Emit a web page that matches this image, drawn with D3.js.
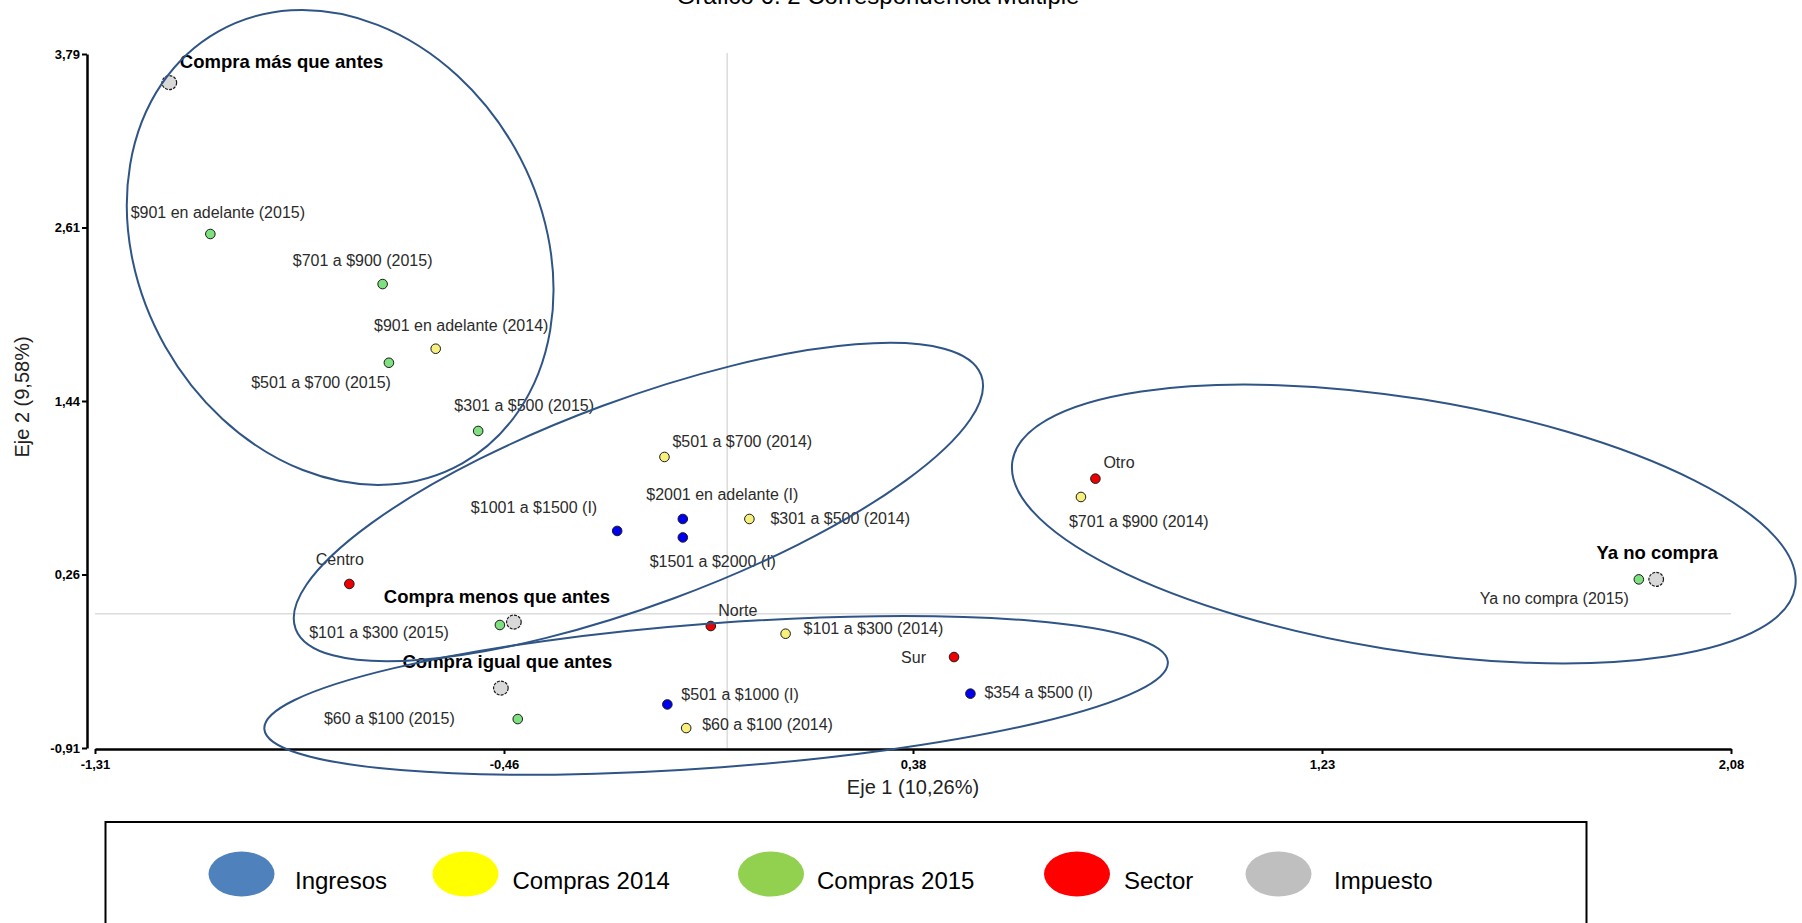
<!DOCTYPE html>
<html><head><meta charset="utf-8">
<script src="https://cdn.jsdelivr.net/npm/d3@7"></script>
<style>
html,body{margin:0;padding:0;background:#fff;overflow:hidden}
svg{display:block;font-family:"Liberation Sans",Arial,Helvetica,sans-serif}
</style></head><body>
<svg id="chart" width="1802" height="923"></svg>
<script>
// ---------- DATA ----------
const chartTitle = "Gráfico 6. 2 Correspondencia Múltiple";
const xAxisTitle = "Eje 1 (10,26%)";
const yAxisTitle = "Eje 2 (9,58%)";
const xDomain = [-1.31, 2.08];
const yDomain = [-0.91, 3.79];
const xTickLabels = ["-1,31", "-0,46", "0,38", "1,23", "2,08"];
const yTickLabels = ["-0,91", "0,26", "1,44", "2,61", "3,79"];

const seriesNames = ["Ingresos", "Compras 2014", "Compras 2015", "Sector", "Impuesto"];

const ingresosLabels = ["$2001 en adelante (I)", "$1501 a $2000 (I)", "$1001 a $1500 (I)", "$501 a $1000 (I)", "$354 a $500 (I)"];
const ingresosX = [-0.092, -0.092, -0.228, -0.124, 0.504];
const ingresosY = [0.641, 0.516, 0.560, -0.615, -0.542];

const compras2014Labels = ["$901 en adelante (2014)", "$701 a $900 (2014)", "$501 a $700 (2014)", "$301 a $500 (2014)", "$101 a $300 (2014)", "$60 a $100 (2014)"];
const compras2014X = [-0.604, 0.733, -0.130, 0.046, 0.121, -0.085];
const compras2014Y = [1.794, 0.790, 1.061, 0.641, -0.136, -0.775];

const compras2015Labels = ["$901 en adelante (2015)", "$701 a $900 (2015)", "$501 a $700 (2015)", "$301 a $500 (2015)", "$101 a $300 (2015)", "$60 a $100 (2015)", "Ya no compra (2015)"];
const compras2015X = [-1.071, -0.714, -0.701, -0.516, -0.471, -0.434, 1.889];
const compras2015Y = [2.571, 2.232, 1.699, 1.237, -0.077, -0.714, 0.232];

const sectorLabels = ["Centro", "Norte", "Sur", "Otro"];
const sectorX = [-0.783, -0.034, 0.470, 0.763];
const sectorY = [0.201, -0.084, -0.294, 0.914];

const impuestoLabels = ["Compra más que antes", "Compra menos que antes", "Compra igual que antes", "Ya no compra"];
const impuestoX = [-1.156, -0.442, -0.469, 1.925];
const impuestoY = [3.596, -0.057, -0.504, 0.232];

// group ellipse centres (data units)
const ellipseCenterX = [-0.802, -0.184, -0.023, 1.402];
const ellipseCenterY = [2.480, 0.756, -0.554, 0.607];

// ---------- LAYOUT / STYLE ----------
const ellipseShape = [ // rx, ry (px), rotation (deg)
  [248, 201, 60.5], [365.5, 102.6, -20.3], [453, 72.1, -4.26], [396.4, 126, 9.15]
];
const pointFill = {"Ingresos":"#0000f0","Compras 2014":"#f8f07c","Compras 2015":"#7ee07e","Sector":"#ee0000","Impuesto":"#d9d9d9"};
const legendFill = ["#4f81bd", "#ffff00", "#92d050", "#ff0000", "#bfbfbf"];
const legendEllipseX = [241.5, 465.5, 771, 1077, 1278.5];
const legendTextX = [295, 512.5, 817, 1124, 1334];
// label placement: [anchor, dx, dy]
const labelPlace = {
  "$2001 en adelante (I)":["middle",39.5,-19], "$1501 a $2000 (I)":["middle",30,29.5],
  "$1001 a $1500 (I)":["end",-20,-18], "$501 a $1000 (I)":["start",14,-4.5], "$354 a $500 (I)":["start",14,4.5],
  "$901 en adelante (2014)":["middle",25.5,-17.7], "$701 a $900 (2014)":["start",-12,30],
  "$501 a $700 (2014)":["start",8,-10], "$301 a $500 (2014)":["start",21,5],
  "$101 a $300 (2014)":["start",18,0.5], "$60 a $100 (2014)":["start",16,2],
  "$901 en adelante (2015)":["middle",7.5,-16], "$701 a $900 (2015)":["middle",-20,-18],
  "$501 a $700 (2015)":["end",2,25], "$301 a $500 (2015)":["middle",46,-20],
  "$101 a $300 (2015)":["end",-51,13], "$60 a $100 (2015)":["end",-63,5], "Ya no compra (2015)":["end",-10,25],
  "Centro":["middle",-9.5,-19], "Norte":["middle",27,-10], "Sur":["end",-28,5.5], "Otro":["start",8,-10.5],
  "Compra más que antes":["start",10.5,-15], "Compra menos que antes":["middle",-17,-19],
  "Compra igual que antes":["middle",6.5,-20], "Ya no compra":["middle",1,-20]
};

// ---------- BUILD ----------
const svg = d3.select("#chart");
const x = d3.scaleLinear().domain(xDomain).range([95, 1731]);
const y = d3.scaleLinear().domain(yDomain).range([748, 54]);
const xTickVals = d3.range(5).map(i => xDomain[0] + i * (xDomain[1] - xDomain[0]) / 4);
const yTickVals = d3.range(5).map(i => yDomain[0] + i * (yDomain[1] - yDomain[0]) / 4);

function mk(name, labels, xs, ys) {
  return labels.map((l, i) => ({series: name, label: l, x: xs[i], y: ys[i]}));
}
const points = [].concat(
  mk("Ingresos", ingresosLabels, ingresosX, ingresosY),
  mk("Compras 2014", compras2014Labels, compras2014X, compras2014Y),
  mk("Compras 2015", compras2015Labels, compras2015X, compras2015Y),
  mk("Sector", sectorLabels, sectorX, sectorY),
  mk("Impuesto", impuestoLabels, impuestoX, impuestoY)
);

// title (cut at the top edge, as in the original)
svg.append("text").attr("x", 878).attr("y", 4).attr("text-anchor", "middle")
  .attr("font-size", 24).attr("fill", "#000").text(chartTitle);

// reference lines
svg.append("line").attr("x1", x(0)).attr("x2", x(0)).attr("y1", y(yDomain[1]) - 1).attr("y2", y(yDomain[0]))
  .attr("stroke", "#dcdcdc").attr("stroke-width", 1.5);
svg.append("line").attr("x1", x(xDomain[0])).attr("x2", x(xDomain[1])).attr("y1", y(0)).attr("y2", y(0))
  .attr("stroke", "#dcdcdc").attr("stroke-width", 1.5);

// axes
const xAxis = svg.append("g").attr("transform", "translate(0,749)")
  .call(d3.axisBottom(x).tickValues(xTickVals).tickFormat((d, i) => xTickLabels[i]).tickSize(5).tickSizeOuter(0).tickPadding(6));
const yAxis = svg.append("g").attr("transform", "translate(87,0)")
  .call(d3.axisLeft(y).tickValues(yTickVals).tickFormat((d, i) => yTickLabels[i]).tickSize(5).tickSizeOuter(0).tickPadding(2));
[xAxis, yAxis].forEach(g => {
  g.select(".domain").attr("stroke", "#000").attr("stroke-width", 2.5);
  g.selectAll(".tick line").attr("stroke", "#000").attr("stroke-width", 2);
  g.selectAll(".tick text").attr("font-size", 13).attr("font-weight", "bold").attr("fill", "#000")
    .attr("font-family", "'Liberation Sans',Arial,sans-serif");
});

// axis titles
svg.append("text").attr("x", (x.range()[0] + x.range()[1]) / 2).attr("y", 794).attr("text-anchor", "middle")
  .attr("font-size", 20).attr("fill", "#222").text(xAxisTitle);
svg.append("text").attr("transform", "translate(29," + 397 + ") rotate(-90)").attr("text-anchor", "middle")
  .attr("font-size", 20).attr("fill", "#222").text(yAxisTitle);

// labels
svg.append("g").selectAll("text").data(points).join("text")
  .attr("x", d => x(d.x) + labelPlace[d.label][1])
  .attr("y", d => y(d.y) + labelPlace[d.label][2])
  .attr("text-anchor", d => labelPlace[d.label][0])
  .attr("font-size", d => d.series === "Impuesto" ? 18.5 : 16)
  .attr("font-weight", d => d.series === "Impuesto" ? "bold" : "normal")
  .attr("fill", d => d.series === "Impuesto" ? "#000" : "#2b2b2b")
  .text(d => d.label);

// points
svg.append("g").selectAll("ellipse").data(points).join("ellipse")
  .attr("cx", d => x(d.x)).attr("cy", d => y(d.y))
  .attr("rx", d => d.series === "Impuesto" ? 7.3 : 4.8)
  .attr("ry", d => d.series === "Impuesto" ? 7 : 4.8)
  .attr("fill", d => pointFill[d.series])
  .attr("stroke", "#1a1a1a")
  .attr("stroke-width", d => d.series === "Impuesto" ? 1.2 : 1)
  .attr("stroke-dasharray", d => d.series === "Impuesto" ? "3,1.2" : null);

// group ellipses
svg.append("g").selectAll("ellipse").data(ellipseCenterX.map((cx, i) => ({cx, cy: ellipseCenterY[i], s: ellipseShape[i]})))
  .join("ellipse")
  .attr("transform", d => "translate(" + x(d.cx) + "," + y(d.cy) + ") rotate(" + d.s[2] + ")")
  .attr("rx", d => d.s[0]).attr("ry", d => d.s[1])
  .attr("fill", "none").attr("stroke", "#2f5486").attr("stroke-width", 2);

// legend
const lg = svg.append("g");
lg.append("rect").attr("x", 105.5).attr("y", 822).attr("width", 1481).attr("height", 140)
  .attr("fill", "#fff").attr("stroke", "#000").attr("stroke-width", 2);
seriesNames.forEach((n, i) => {
  lg.append("ellipse").attr("cx", legendEllipseX[i]).attr("cy", 874).attr("rx", 33).attr("ry", 22.5)
    .attr("fill", legendFill[i]);
  lg.append("text").attr("x", legendTextX[i]).attr("y", 889).attr("font-size", 24).attr("fill", "#000").text(n);
});
</script>
</body></html>
